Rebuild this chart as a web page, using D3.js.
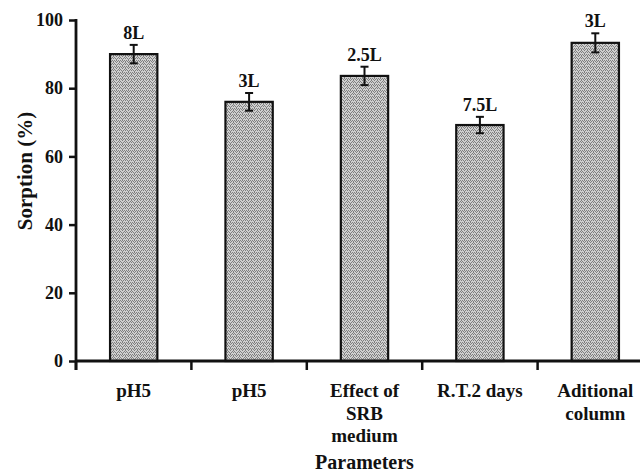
<!DOCTYPE html>
<html>
<head>
<meta charset="utf-8">
<script src="https://cdn.jsdelivr.net/npm/d3@7"></script>
<style>
  html, body { margin: 0; padding: 0; background: #fff; }
  svg { display: block; }
</style>
</head>
<body>
<svg id="chart" width="640" height="474"></svg>
<script>
// Sorption per experimental parameter
const categories = ["pH5", "pH5", "Effect of\nSRB\nmedium", "R.T.2 days", "Aditional\ncolumn"];
const sorption = [90.0, 76.0, 83.6, 69.2, 93.3];
const errors = [2.7, 2.6, 2.7, 2.4, 2.8];
const volumes = ["8L", "3L", "2.5L", "7.5L", "3L"];
const yTicks = [0, 20, 40, 60, 80, 100];

const FONT = "'Liberation Serif', 'Times New Roman', Times, serif";
const INK = "#111";

const svg = d3.select("#chart")
  .attr("font-family", FONT)
  .attr("font-weight", "bold");
const W = 640;
const plotLeft = 76, plotRight = 653, plotTop = 20, plotBottom = 361;

// zigzag weave fill for the bars
const defs = svg.append("defs");
const pat = defs.append("pattern")
  .attr("id", "weave").attr("patternUnits", "userSpaceOnUse")
  .attr("width", 6).attr("height", 6);
pat.append("rect").attr("width", 6).attr("height", 6).attr("fill", "#d0d0d0");
const dots = [[0,0],[1,1],[2,2],[3,1],[4,0],[5,1],
              [0,3],[1,4],[2,5],[3,4],[4,3],[5,4],[2,0],[5,2]];
pat.selectAll("rect.d").data(dots).join("rect")
  .attr("class", "d").attr("x", d => d[0]).attr("y", d => d[1])
  .attr("width", 1).attr("height", 1).attr("fill", "#808080");

const x = d3.scaleBand()
  .domain(d3.range(categories.length))
  .range([plotLeft, plotRight])
  .paddingInner(0.59)
  .paddingOuter(0.295);

const y = d3.scaleLinear().domain([0, 100]).range([plotBottom, plotTop]);

// bars
svg.append("g").selectAll("rect").data(sorption).join("rect")
  .attr("x", (d, i) => x(i))
  .attr("y", d => y(d))
  .attr("width", x.bandwidth())
  .attr("height", d => y(0) - y(d))
  .attr("fill", "url(#weave)")
  .attr("stroke", INK)
  .attr("stroke-width", 2.2);

// error bars
const eg = svg.append("g").attr("stroke", INK).attr("stroke-width", 2);
sorption.forEach((v, i) => {
  const cx = x(i) + x.bandwidth() / 2;
  const y1 = y(v + errors[i]), y2 = y(v - errors[i]);
  eg.append("line").attr("x1", cx).attr("x2", cx).attr("y1", y1).attr("y2", y2);
  eg.append("line").attr("x1", cx - 4).attr("x2", cx + 4).attr("y1", y1).attr("y2", y1);
  eg.append("line").attr("x1", cx - 4).attr("x2", cx + 4).attr("y1", y2).attr("y2", y2);
});

// volume labels above the error bars
svg.append("g").selectAll("text").data(volumes).join("text")
  .attr("x", (d, i) => x(i) + x.bandwidth() / 2)
  .attr("y", (d, i) => y(sorption[i] + errors[i]) - 6)
  .attr("text-anchor", "middle")
  .attr("font-size", 18)
  .attr("fill", INK)
  .text(d => d);

// y axis
const yAxis = d3.axisLeft(y).tickValues(yTicks).tickSize(7).tickSizeOuter(0).tickPadding(6);
const gy = svg.append("g").attr("transform", `translate(${plotLeft},0)`).call(yAxis)
  .attr("font-family", FONT).attr("font-weight", "bold");
gy.select(".domain").remove();
gy.selectAll(".tick line").attr("stroke", INK).attr("stroke-width", 2.5);
gy.selectAll(".tick text").attr("font-size", 18).attr("fill", INK);
svg.append("line").attr("x1", plotLeft).attr("x2", plotLeft).attr("y1", y(100) - 1).attr("y2", plotBottom + 9)
  .attr("stroke", INK).attr("stroke-width", 2.8);

// x axis line and boundary ticks
svg.append("line").attr("x1", plotLeft).attr("x2", W + 5).attr("y1", plotBottom).attr("y2", plotBottom)
  .attr("stroke", INK).attr("stroke-width", 2.8);
const bounds = d3.range(categories.length + 1).map(k => plotLeft + k * x.step());
svg.append("g").selectAll("line").data(bounds).join("line")
  .attr("x1", d => d).attr("x2", d => d)
  .attr("y1", plotBottom).attr("y2", plotBottom + 9)
  .attr("stroke", INK).attr("stroke-width", 2.5);

// category labels
const cl = svg.append("g").selectAll("text").data(categories).join("text")
  .attr("text-anchor", "middle")
  .attr("font-size", 19)
  .attr("fill", INK)
  .attr("transform", (d, i) => `translate(${x(i) + x.bandwidth() / 2},${plotBottom + 36})`);
cl.selectAll("tspan").data(d => d.split("\n")).join("tspan")
  .attr("x", 0).attr("dy", (d, j) => j === 0 ? 0 : 22.5)
  .text(d => d);

// axis titles
svg.append("text")
  .attr("x", (plotLeft + plotRight) / 2).attr("y", 469)
  .attr("text-anchor", "middle").attr("font-size", 20)
  .attr("fill", INK)
  .text("Parameters");
svg.append("text")
  .attr("transform", `translate(32,${(110 + 232) / 2}) rotate(-90)`)
  .attr("text-anchor", "middle").attr("font-size", 21)
  .attr("fill", INK)
  .text("Sorption (%)");
</script>
</body>
</html>
